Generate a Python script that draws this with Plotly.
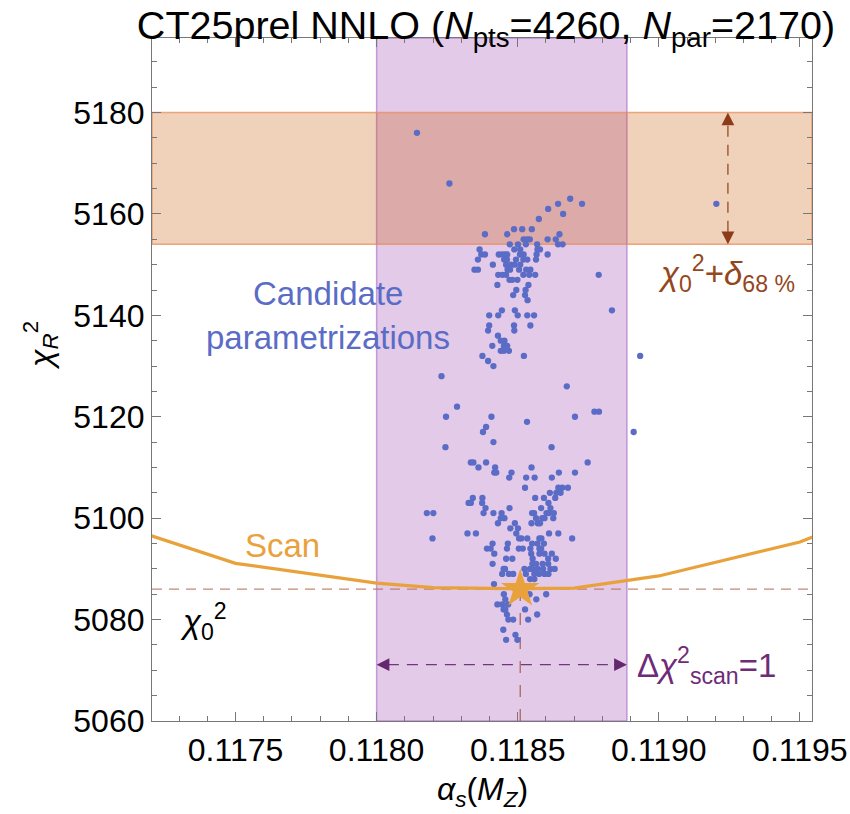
import plotly.graph_objects as go

# ---------------- data ----------------
title_text = "CT25prel NNLO (<i>N</i><sub>pts</sub>=4260, <i>N</i><sub>par</sub>=2170)"

x_range = [0.117204, 0.119543]
y_range = [5060, 5194.7]
x_ticks = [0.1175, 0.1180, 0.1185, 0.1190, 0.1195]
x_ticklabels = ["0.1175", "0.1180", "0.1185", "0.1190", "0.1195"]
y_ticks = [5060, 5080, 5100, 5120, 5140, 5160, 5180]

# candidate parametrizations: chi2 levels and the alpha_s values at each level
cand_levels = [5176, 5166, 5163, 5162, 5161, 5160, 5159, 5157, 5156, 5155,
               5154, 5153, 5152, 5151, 5150, 5149, 5148, 5147, 5146, 5145,
               5144, 5143, 5141, 5140, 5138, 5137, 5136, 5135, 5134, 5133,
               5132, 5131, 5130, 5128, 5126, 5122, 5121, 5120, 5119, 5118,
               5117, 5115, 5114, 5111, 5110, 5109, 5108, 5106, 5105, 5104,
               5103, 5102, 5101, 5100, 5099, 5098, 5097, 5096, 5095, 5094,
               5093, 5092, 5091, 5090, 5089, 5088, 5087, 5085, 5084, 5083,
               5082, 5081, 5080, 5078, 5077, 5076]
cand_alphas = [
    [0.118143],
    [0.118258],
    [0.118686],
    [0.118643, 0.118728, 0.119204],
    [0.118608],
    [0.118661],
    [0.118575],
    [0.118487, 0.118516, 0.118550],
    [0.118384, 0.118463, 0.118648],
    [0.118521, 0.118533, 0.118543, 0.118606, 0.118635],
    [0.118472, 0.118501, 0.118529, 0.118569, 0.118643, 0.118659],
    [0.118365, 0.118488, 0.118509, 0.118570, 0.118579],
    [0.118371, 0.118384, 0.118433, 0.118445, 0.118455, 0.118463, 0.118508, 0.118521, 0.118567, 0.118606],
    [0.118359, 0.118452, 0.118462, 0.118494, 0.118520, 0.118534, 0.118565],
    [0.118412, 0.118459, 0.118476, 0.118489, 0.118509],
    [0.118347, 0.118359, 0.118464, 0.118473, 0.118505, 0.118530, 0.118545],
    [0.118431, 0.118446, 0.118459, 0.118520, 0.118541, 0.118562, 0.118787],
    [0.118471, 0.118481, 0.118499],
    [0.118428, 0.118538],
    [0.118495, 0.118528],
    [0.118484, 0.118526],
    [0.118535],
    [0.118444, 0.118490, 0.118834],
    [0.118399, 0.118431, 0.118500, 0.118534, 0.118558],
    [0.118399, 0.118487, 0.118545],
    [0.118395, 0.118488],
    [0.118430],
    [0.118440, 0.118453],
    [0.118410, 0.118451, 0.118463],
    [0.118440, 0.118451, 0.118469],
    [0.118375, 0.118522, 0.118934],
    [0.118395],
    [0.118414],
    [0.118230],
    [0.118674],
    [0.118285],
    [0.118772, 0.118788],
    [0.118246, 0.118407, 0.118703],
    [0.118533],
    [0.118388],
    [0.118377, 0.118911],
    [0.118414],
    [0.118244, 0.118620],
    [0.118334, 0.118343, 0.118388, 0.118748],
    [0.118361, 0.118420, 0.118549],
    [0.118417, 0.118424, 0.118478, 0.118646, 0.118703],
    [0.118470, 0.118530, 0.118560, 0.118621],
    [0.118526, 0.118644, 0.118658, 0.118678],
    [0.118614, 0.118637, 0.118652],
    [0.118341, 0.118375, 0.118562, 0.118593, 0.118633],
    [0.118326, 0.118334, 0.118374, 0.118609],
    [0.118386, 0.118471, 0.118583, 0.118616],
    [0.118178, 0.118201, 0.118379, 0.118414, 0.118443, 0.118551, 0.118558, 0.118602, 0.118611, 0.118628],
    [0.118440, 0.118453, 0.118565, 0.118587, 0.118595, 0.118626],
    [0.118430, 0.118490, 0.118549, 0.118571, 0.118579],
    [0.118474, 0.118501],
    [0.118322, 0.118352, 0.118495, 0.118611, 0.118644],
    [0.118198, 0.118505, 0.118513, 0.118534, 0.118577, 0.118584, 0.118693],
    [0.118411, 0.118465, 0.118551, 0.118570, 0.118593],
    [0.118391, 0.118404, 0.118462, 0.118504, 0.118518, 0.118545, 0.118577, 0.118583],
    [0.118417, 0.118548, 0.118577, 0.118595, 0.118621],
    [0.118459, 0.118481, 0.118553, 0.118608, 0.118635],
    [0.118411, 0.118552, 0.118565, 0.118588, 0.118608],
    [0.118450, 0.118455, 0.118524, 0.118544, 0.118552, 0.118571, 0.118590, 0.118616, 0.118631],
    [0.118445, 0.118469, 0.118484, 0.118529, 0.118559, 0.118576, 0.118595, 0.118609],
    [0.118544, 0.118559],
    [0.118416],
    [0.118451, 0.118542, 0.118601],
    [0.118456, 0.118566],
    [0.118428, 0.118445, 0.118466],
    [0.118450, 0.118456, 0.118526],
    [0.118462, 0.118569],
    [0.118467, 0.118484, 0.118537],
    [0.118449],
    [0.118492],
    [0.118459, 0.118499],
]

# alpha_s scan
scan_alpha = [0.1170, 0.1175, 0.1180, 0.1182, 0.1185, 0.1187, 0.1190, 0.1195, 0.1200]
scan_chi2 = [5100.2, 5091.1, 5087.2, 5086.3, 5086.1, 5086.2, 5088.6, 5095.3, 5106.0]

chi0_sq = 5086.0
alpha_best = 0.118509
band68_lo, band68_hi = 5154.0, 5180.0
alpha_band = [0.11800, 0.118887]
scan_arrow_chi2 = 5071.1
delta_arrow_alpha = 0.119245

# ---------------- figure ----------------
FONT = "Liberation Sans, Arial, Helvetica, sans-serif"
ORANGE = "#E9A23B"
BLUE = "#5A6CC6"
PURPLE_TXT = "#6E2C78"
BROWN = "#94461C"
TXT = 33

xs, ys = [], []
for lev, row in zip(cand_levels, cand_alphas):
    for a in row:
        xs.append(a)
        ys.append(lev)

fig = go.Figure()
fig.add_trace(go.Scatter(x=xs, y=ys, mode="markers",
                         marker=dict(size=6.3, color=BLUE, line=dict(width=0)),
                         hoverinfo="skip", showlegend=False))
fig.add_trace(go.Scatter(x=scan_alpha, y=scan_chi2, mode="lines",
                         line=dict(color=ORANGE, width=3.3),
                         hoverinfo="skip", showlegend=False))
fig.add_trace(go.Scatter(x=[alpha_best], y=[chi0_sq], mode="markers",
                         marker=dict(symbol="star", size=29, color=ORANGE, line=dict(width=0)),
                         hoverinfo="skip", showlegend=False))

shapes = [
    # purple band (delta chi2_scan = 1)
    dict(type="rect", xref="x", yref="y domain", x0=alpha_band[0], x1=alpha_band[1], y0=0, y1=1,
         fillcolor="rgba(160,80,180,0.30)", line=dict(color="rgba(170,110,200,0.65)", width=1.5), layer="below"),
    # orange band
    dict(type="rect", xref="x domain", yref="y", x0=0, x1=1, y0=band68_lo, y1=band68_hi,
         fillcolor="rgba(200,85,0,0.27)", line=dict(color="rgba(235,140,90,0.75)", width=1.5), layer="below"),
    # chi0^2 dashed
    dict(type="line", xref="x domain", yref="y", x0=0, x1=1, y0=chi0_sq, y1=chi0_sq,
         line=dict(color="rgba(185,115,90,0.85)", width=1.3, dash="10px,7px"), layer="below"),
    # vertical dashed below best fit
    dict(type="line", xref="x", yref="y", x0=alpha_best, x1=alpha_best, y0=y_range[0], y1=chi0_sq,
         line=dict(color="rgba(165,95,75,0.9)", width=1.3, dash="12px,12px"), layer="below"),
    # delta68 arrow shaft
    dict(type="line", xref="x", yref="y", x0=delta_arrow_alpha, x1=delta_arrow_alpha,
         y0=band68_lo + 2.5, y1=band68_hi - 2.5,
         line=dict(color="rgba(140,60,25,0.9)", width=1.3, dash="11px,8px")),
    # scan arrow shaft
    dict(type="line", xref="x", yref="y", x0=alpha_band[0] + 0.00004, x1=alpha_band[1] - 0.00004,
         y0=scan_arrow_chi2, y1=scan_arrow_chi2,
         line=dict(color="rgba(100,40,110,0.9)", width=1.3, dash="11px,8px")),
]

def head(x, y, ax, ay, color):
    return dict(x=x, y=y, xref="x", yref="y", ax=ax, ay=ay, text="", showarrow=True,
                arrowhead=2, arrowsize=1.7, arrowwidth=1.5, arrowcolor=color, standoff=0)

def label(x, y, text, color, size=TXT, xref="x", yref="y", angle=0):
    return dict(x=x, y=y, xref=xref, yref=yref, text=text, showarrow=False, textangle=angle,
                xanchor="center", yanchor="middle",
                font=dict(family=FONT, size=size, color=color))

annotations = [
    head(delta_arrow_alpha, band68_hi, 0, 14, "#8C3C19"),
    head(delta_arrow_alpha, band68_lo, 0, -14, "#8C3C19"),
    head(alpha_band[0], scan_arrow_chi2, 14, 0, "#64286E"),
    head(alpha_band[1], scan_arrow_chi2, -14, 0, "#64286E"),
    label(0.117826, 5144.4, "Candidate", BLUE),
    label(0.117826, 5135.7, "parametrizations", BLUE),
    label(0.117668, 5094.7, "Scan", ORANGE),
    label(0.117387, 5079.6, "<i>χ</i><sub>0</sub><sup>2</sup>", "black"),
    label(0.119239, 5148.3, "<i>χ</i><sub>0</sub><sup>2</sup>+<i>δ</i><sub>68 %</sub>", BROWN),
    label(0.119170, 5071.0, "Δ<i>χ</i><sup>2</sup><sub>scan</sub>=1", PURPLE_TXT),
    # axis titles
    label(-0.168, 5134, "<i>χ</i><sub><i>R</i></sub><sup>2</sup>", "black", size=32,
          xref="paper", angle=-90),
    label(0.5, -0.103, "<i>α</i><sub><i>s</i></sub>(<i>M</i><sub><i>Z</i></sub>)", "black", size=32,
          xref="paper", yref="paper"),
]

axis_common = dict(showgrid=False, zeroline=False, showline=True, linecolor="#777777", linewidth=1.2,
                   mirror="ticks", ticks="inside", ticklen=9, tickwidth=1, tickcolor="#777777",
                   automargin=False,
                   tickfont=dict(family=FONT, size=32, color="black"))

fig.update_layout(
    width=850, height=814, autosize=False,
    margin=dict(l=152, r=38, t=38, b=93),
    paper_bgcolor="white", plot_bgcolor="white",
    title=dict(text=title_text, x=0.506, xref="paper", y=0.969, yref="container",
               xanchor="center", yanchor="middle", automargin=False,
               font=dict(family=FONT, size=39.5, color="black")),
    shapes=shapes, annotations=annotations,
    xaxis=dict(range=x_range, tickvals=x_ticks, ticktext=x_ticklabels,
               minor=dict(dtick=0.0001, tick0=0.1175, ticks="inside", ticklen=5, tickcolor="#777777"),
               **axis_common),
    yaxis=dict(range=y_range, tickvals=y_ticks,
               minor=dict(dtick=5, tick0=5060, ticks="inside", ticklen=5, tickcolor="#777777"),
               **axis_common),
)

fig.write_html("out.html")
